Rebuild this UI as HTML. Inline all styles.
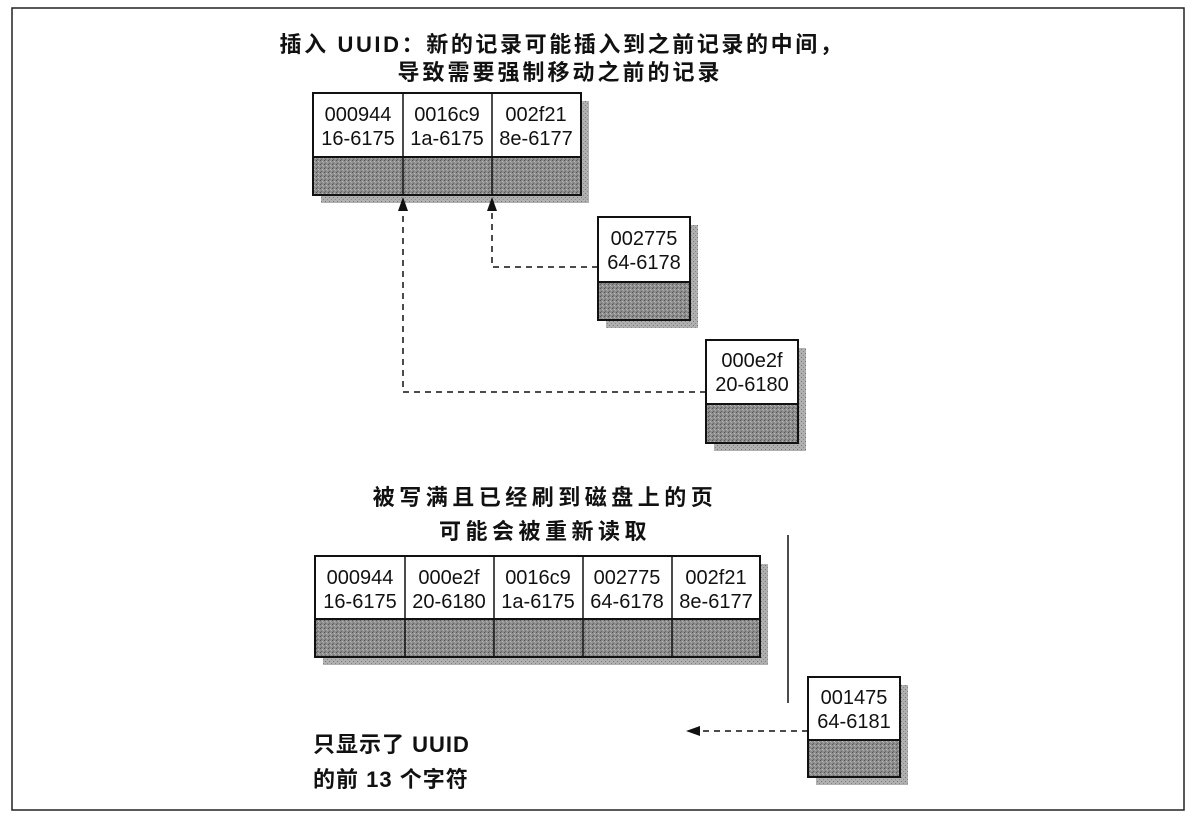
<!DOCTYPE html>
<html><head><meta charset="utf-8"><style>
body{margin:0;background:#fff;}
svg{display:block;}
text{font-family:"Liberation Sans","Noto Sans CJK SC",sans-serif;}
.c{font-family:"Liberation Sans Narrow","Liberation Sans",sans-serif;font-size:20px;fill:#111;text-anchor:middle;}
.t{font-size:22px;font-weight:bold;fill:#111;letter-spacing:3px;}
</style></head><body>
<svg width="1194" height="822" viewBox="0 0 1194 822">
<defs>
<pattern id="g" width="4" height="4" patternUnits="userSpaceOnUse">
<rect width="4" height="4" fill="#8c8c8c"/>
<rect x="0" y="0" width="1" height="1" fill="#555"/><rect x="2" y="1" width="1" height="1" fill="#bbb"/>
<rect x="1" y="3" width="1" height="1" fill="#666"/><rect x="3" y="2" width="1" height="1" fill="#aaa"/>
</pattern>
<pattern id="s" width="4" height="4" patternUnits="userSpaceOnUse">
<rect width="4" height="4" fill="#b0b0b0"/>
<rect x="1" y="1" width="1" height="1" fill="#777"/><rect x="3" y="3" width="1" height="1" fill="#888"/>
</pattern>
</defs>
<rect x="12" y="8" width="1172" height="802" fill="none" stroke="#222" stroke-width="1.5"/>
<text class="t" x="562" y="52" text-anchor="middle" style="letter-spacing:2.6px">插入 UUID：新的记录可能插入到之前记录的中间，</text>
<text class="t" x="560" y="80" text-anchor="middle">导致需要强制移动之前的记录</text>

<rect x="321" y="101" width="268" height="102" fill="url(#s)"/>
<rect x="313" y="93" width="268" height="102" fill="#fff" stroke="#111" stroke-width="2"/>
<rect x="313" y="157" width="268" height="38" fill="url(#g)" stroke="#111" stroke-width="2"/>
<line x1="403" y1="93" x2="403" y2="195" stroke="#111" stroke-width="1.5"/>
<line x1="492" y1="93" x2="492" y2="195" stroke="#111" stroke-width="1.5"/>
<text class="c" x="358" y="121">000944</text><text class="c" x="358" y="145">16-6175</text>
<text class="c" x="447" y="121">0016c9</text><text class="c" x="447" y="145">1a-6175</text>
<text class="c" x="536" y="121">002f21</text><text class="c" x="536" y="145">8e-6177</text>

<rect x="606" y="225" width="92" height="103" fill="url(#s)"/>
<rect x="598" y="217" width="92" height="103" fill="#fff" stroke="#111" stroke-width="2"/>
<rect x="598" y="282" width="92" height="38" fill="url(#g)" stroke="#111" stroke-width="2"/>
<text class="c" x="644" y="245">002775</text><text class="c" x="644" y="269">64-6178</text>

<rect x="714" y="348" width="92" height="103" fill="url(#s)"/>
<rect x="706" y="340" width="92" height="103" fill="#fff" stroke="#111" stroke-width="2"/>
<rect x="706" y="404" width="92" height="39" fill="url(#g)" stroke="#111" stroke-width="2"/>
<text class="c" x="752" y="367">000e2f</text><text class="c" x="752" y="391">20-6180</text>

<path d="M598 267 H492 V210" fill="none" stroke="#111" stroke-width="1.5" stroke-dasharray="6,5"/>
<polygon points="492,197 487,211 497,211" fill="#111"/>
<path d="M706 392 H403 V210" fill="none" stroke="#111" stroke-width="1.5" stroke-dasharray="6,5"/>
<polygon points="403,197 398,211 408,211" fill="#111"/>

<text class="t" x="545" y="505" text-anchor="middle" style="letter-spacing:4.5px">被写满且已经刷到磁盘上的页</text>
<text class="t" x="545" y="539" text-anchor="middle" style="letter-spacing:4.5px">可能会被重新读取</text>

<rect x="323" y="564" width="445" height="101" fill="url(#s)"/>
<rect x="315" y="556" width="445" height="101" fill="#fff" stroke="#111" stroke-width="2"/>
<rect x="315" y="619" width="445" height="38" fill="url(#g)" stroke="#111" stroke-width="2"/>
<line x1="405" y1="556" x2="405" y2="657" stroke="#111" stroke-width="1.5"/>
<line x1="494" y1="556" x2="494" y2="657" stroke="#111" stroke-width="1.5"/>
<line x1="583" y1="556" x2="583" y2="657" stroke="#111" stroke-width="1.5"/>
<line x1="672" y1="556" x2="672" y2="657" stroke="#111" stroke-width="1.5"/>
<text class="c" x="360" y="584">000944</text><text class="c" x="360" y="608">16-6175</text>
<text class="c" x="449" y="584">000e2f</text><text class="c" x="449" y="608">20-6180</text>
<text class="c" x="538" y="584">0016c9</text><text class="c" x="538" y="608">1a-6175</text>
<text class="c" x="627" y="584">002775</text><text class="c" x="627" y="608">64-6178</text>
<text class="c" x="716" y="584">002f21</text><text class="c" x="716" y="608">8e-6177</text>

<line x1="788" y1="535" x2="788" y2="703" stroke="#111" stroke-width="1.5"/>

<rect x="816" y="685" width="92" height="100" fill="url(#s)"/>
<rect x="808" y="677" width="92" height="100" fill="#fff" stroke="#111" stroke-width="2"/>
<rect x="808" y="740" width="92" height="37" fill="url(#g)" stroke="#111" stroke-width="2"/>
<text class="c" x="854" y="704">001475</text><text class="c" x="854" y="728">64-6181</text>

<path d="M808 731 H698" fill="none" stroke="#111" stroke-width="1.5" stroke-dasharray="6,5"/>
<polygon points="686,731 700,726 700,736" fill="#111"/>

<text class="t" x="313" y="752" style="letter-spacing:1px">只显示了 UUID</text>
<text class="t" x="313" y="787" style="letter-spacing:1px">的前 13 个字符</text>
</svg>
</body></html>
